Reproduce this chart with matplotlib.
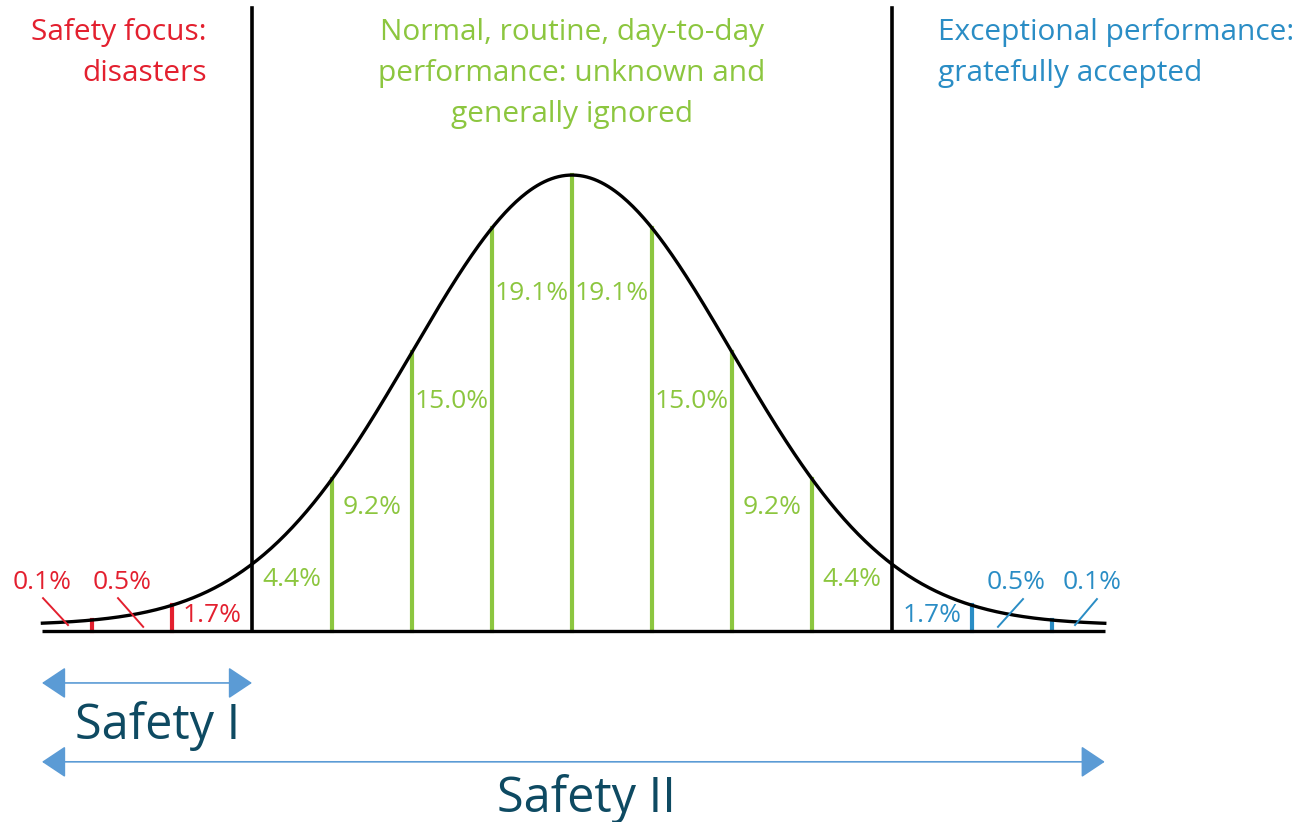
import numpy as np
import matplotlib
matplotlib.use("Agg")
import matplotlib.pyplot as plt
from matplotlib.patches import FancyArrowPatch

# ---- data ----
edges = [-3.5, -3.0, -2.5, -2.0, -1.5, -1.0, -0.5, 0.0, 0.5, 1.0, 1.5, 2.0, 2.5, 3.0, 3.5]
band_pct = ["0.1%", "0.5%", "1.7%", "4.4%", "9.2%", "15.0%", "19.1%",
            "19.1%", "15.0%", "9.2%", "4.4%", "1.7%", "0.5%", "0.1%"]
green_lines = [-1.5, -1.0, -0.5, 0.0, 0.5, 1.0, 1.5]
red_lines = [-3.0, -2.5]
blue_lines = [2.5, 3.0]
black_lines = [-2.0, 2.0]
header_left = "Safety focus:\ndisasters"
header_mid = "Normal, routine, day-to-day\nperformance: unknown and\ngenerally ignored"
header_right = "Exceptional performance:\ngratefully accepted"
safety1 = "Safety I"
safety2 = "Safety II"

RED = "#e3202f"
GREEN = "#8cc63f"
BLUE = "#2a8dc5"
ARROW = "#5b9bd5"
TEAL = "#0e4a62"

off = 0.013
def curve(z):
    return off + (1 - off) * np.exp(-np.asarray(z) ** 2 / 2)

fig = plt.figure(figsize=(13.03, 8.22), dpi=100)
ax = fig.add_axes([0, 0, 1, 1])
ax.set_xlim(-3.575, 4.569)
ax.set_ylim(-0.419, 1.384)
ax.axis("off")

hfont = ["Open Sans", "DejaVu Sans"]
pfs = 19
hfs = 21.5

# baseline and curve
x0, x1 = -3.31, 3.33
ax.plot([x0, x1], [0, 0], color="black", lw=2.4, solid_capstyle="butt", zorder=3)
zz = np.linspace(x0, x1, 600)
ax.plot(zz, curve(zz), color="black", lw=2.4, zorder=4)

# vertical lines
for v in green_lines:
    ax.plot([v, v], [0, curve(v)], color=GREEN, lw=3.0, zorder=2)
for v in red_lines:
    ax.plot([v, v], [0, curve(v)], color=RED, lw=3.0, zorder=2)
for v in blue_lines:
    ax.plot([v, v], [0, curve(v)], color=BLUE, lw=3.0, zorder=2)
for v in black_lines:
    ax.plot([v, v], [0, 1.366], color="black", lw=2.6, zorder=3)

# percentage labels inside the bands
mids = [(edges[i] + edges[i + 1]) / 2 for i in range(len(edges) - 1)]
label_y = {"19.1%": 0.741, "15.0%": 0.504, "9.2%": 0.270, "4.4%": 0.112, "1.7%": 0.035}
for i, (m, t) in enumerate(zip(mids, band_pct)):
    if t in label_y:
        if abs(m) < 2:
            col = GREEN
        elif m < 0:
            col = RED
        else:
            col = BLUE
        ax.text(m, label_y[t], t, color=col, fontsize=pfs, family=hfont,
                ha="center", va="center", zorder=5)

# tail labels with leader lines
tails = [
    ("0.1%", RED, -3.31, (-3.306, 0.072), (-3.15, 0.013)),
    ("0.5%", RED, -2.81, (-2.8375, 0.072), (-2.68, 0.009)),
    ("0.5%", BLUE, 2.775, (2.819, 0.070), (2.6625, 0.009)),
    ("0.1%", BLUE, 3.25, (3.281, 0.070), (3.144, 0.013)),
]
for t, col, tx, p0, p1 in tails:
    ax.text(tx, 0.107, t, color=col, fontsize=pfs, family=hfont,
            ha="center", va="center", zorder=5)
    ax.plot([p0[0], p1[0]], [p0[1], p1[1]], color=col, lw=1.4, zorder=5)

# headers
ax.text(-2.281, 1.268, header_left, color=RED, fontsize=hfs, family=hfont,
        ha="right", va="center", multialignment="right", linespacing=1.53)
ax.text(0.0, 1.223, header_mid, color=GREEN, fontsize=hfs, family=hfont,
        ha="center", va="center", multialignment="center", linespacing=1.53)
ax.text(2.2875, 1.268, header_right, color=BLUE, fontsize=hfs, family=hfont,
        ha="left", va="center", multialignment="left", linespacing=1.53)

# arrows
for xa, xb, ya in [(-3.3125, -2.0, -0.114), (-3.3125, 3.33, -0.287)]:
    arr = FancyArrowPatch((xa, ya), (xb, ya),
                          arrowstyle="<|-|>,head_length=0.75,head_width=0.5",
                          mutation_scale=20, color=ARROW, lw=1.2,
                          shrinkA=0, shrinkB=0)
    ax.add_patch(arr)

sfont = ["Open Sans", "DejaVu Sans"]
ax.text(-3.106, -0.237, safety1, color=TEAL, fontsize=35, family=sfont,
        ha="left", va="baseline")
ax.text(0.093, -0.397, safety2, color=TEAL, fontsize=35, family=sfont,
        ha="center", va="baseline")

fig.savefig("out.png", dpi=100, facecolor="white")
